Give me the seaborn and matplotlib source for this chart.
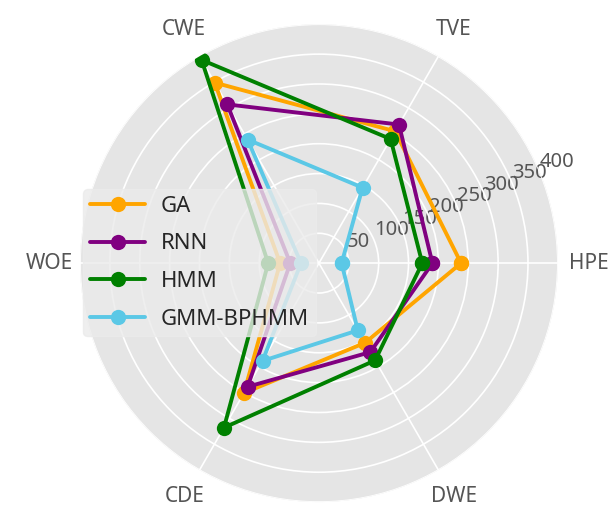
import numpy as np
import pandas as pd
import matplotlib.pyplot as plt
import seaborn as sns

categories = ['HPE', 'TVE', 'CWE', 'WOE', 'CDE', 'DWE']
ga = [238, 255, 349, 65, 251, 154]
rnn = [190, 268, 307, 48, 239, 172]
hmm = [173, 240, 393, 85, 318, 188]
gmm = [38, 146, 239, 30, 189, 130]
methods = ['GA', 'RNN', 'HMM', 'GMM-BPHMM']
r_ticks = [50, 100, 150, 200, 250, 300, 350, 400]
colors = ['orange', 'purple', 'green', '#5BC8E6']

sns.set_theme(style='darkgrid', rc={'axes.facecolor': '#E5E5E5', 'grid.color': 'white',
                                    'grid.linewidth': 1.2})
plt.rcParams['font.family'] = ['Noto Sans', 'DejaVu Sans']

angles = np.linspace(0, 2 * np.pi, len(categories), endpoint=False)

rows = []
for name, vals in zip(methods, [ga, rnn, hmm, gmm]):
    for a, v in zip(list(angles) + [2 * np.pi], vals + [vals[0]]):
        rows.append({'angle': a, 'value': v, 'method': name})
df = pd.DataFrame(rows)

fig = plt.figure(figsize=(6.11, 5.13), dpi=100)
ax = fig.add_axes([0.131, 0.021, 0.782, 0.932], polar=True)
ax.set_facecolor('#E5E5E5')

sns.lineplot(data=df, x='angle', y='value', hue='method', hue_order=methods,
             palette=colors, sort=False, marker='o', markersize=11,
             markeredgewidth=0, linewidth=2.8, ax=ax)

ax.set_ylim(0, 400)
ax.set_yticks(r_ticks)
ax.set_yticklabels([str(t) for t in r_ticks], fontsize=14.5, color='#555555')
ax.set_rlabel_position(22.5)
ax.set_xticks(angles)
ax.set_xticklabels(categories, fontsize=15, color='#555555')
ax.tick_params(axis='x', pad=9)
ax.set_xlabel('')
ax.set_ylabel('')
ax.spines['polar'].set_visible(False)

handles, labels = ax.get_legend_handles_labels()
ax.legend(handles, labels, loc='upper left', bbox_to_anchor=(0.118, 0.653),
          bbox_transform=fig.transFigure, fontsize=16, labelspacing=0.75,
          handlelength=2.5, handletextpad=0.7, facecolor='#EBEBEB',
          edgecolor='#EBEBEB', framealpha=0.8, borderpad=0.3)

fig.savefig('out.png', dpi=100)
